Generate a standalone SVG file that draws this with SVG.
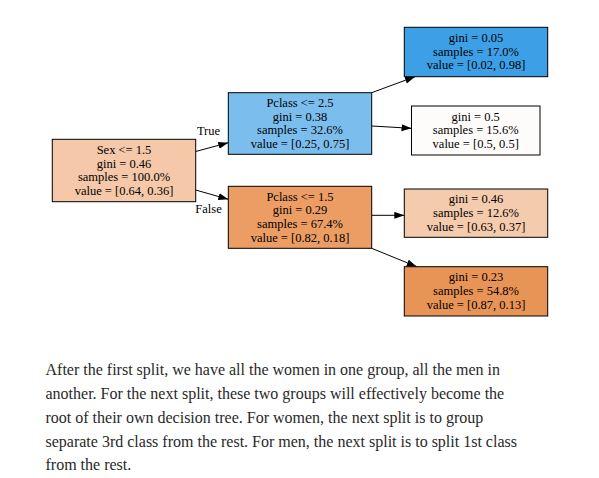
<svg xmlns="http://www.w3.org/2000/svg" width="599" height="478" viewBox="0 0 599 478">
<defs>
<style>
.box{stroke:#000;stroke-width:1}
.t{font-family:"Liberation Serif","Times New Roman",serif;font-size:12.5px;fill:#000;text-anchor:middle}
.lbl{font-family:"Liberation Serif","Times New Roman",serif;font-size:12.5px;fill:#000;text-anchor:middle}
.edge{stroke:#000;stroke-width:1;fill:none;marker-end:url(#ah)}
.p{font-family:"Liberation Serif","Times New Roman",serif;font-size:16px;fill:#292929}
</style>
<marker id="ah" markerUnits="userSpaceOnUse" markerWidth="10" markerHeight="8" refX="10" refY="3.5" orient="auto">
<path d="M0,0 L10,3.5 L0,7 z" fill="#000"/>
</marker>
</defs>
<rect width="599" height="478" fill="#fff"/>
<g id="connectors">
<line class="edge" x1="195.7" y1="151.5" x2="228.3" y2="142.7"/>
<line class="edge" x1="195.7" y1="190" x2="228.3" y2="199.3"/>
<line class="edge" x1="371.7" y1="92.7" x2="415" y2="76.7"/>
<line class="edge" x1="371.7" y1="126" x2="411.5" y2="128.3"/>
<line class="edge" x1="371.7" y1="215.3" x2="404.3" y2="215.3"/>
<line class="edge" x1="371.7" y1="248.3" x2="416.7" y2="266.7"/>
<text class="lbl" x="208.5" y="135">True</text>
<text class="lbl" x="208.5" y="212.5">False</text>
</g>
<g id="root">
<rect class="box" x="52.3" y="139.3" width="143.4" height="62.4" fill="#f4c8a8"/>
<text class="t" x="124" y="154">Sex &lt;= 1.5</text>
<text class="t" x="124" y="167.7">gini = 0.46</text>
<text class="t" x="124" y="181.3">samples = 100.0%</text>
<text class="t" x="124" y="195">value = [0.64, 0.36]</text>
</g>
<g id="pclass25">
<rect class="box" x="228.3" y="92.7" width="143.4" height="61.6" fill="#7bbeee"/>
<text class="t" x="300" y="107">Pclass &lt;= 2.5</text>
<text class="t" x="300" y="120.7">gini = 0.38</text>
<text class="t" x="300" y="134.3">samples = 32.6%</text>
<text class="t" x="300" y="148">value = [0.25, 0.75]</text>
</g>
<g id="pclass15">
<rect class="box" x="228.3" y="186.3" width="143.4" height="62" fill="#eb9d64"/>
<text class="t" x="300" y="200.7">Pclass &lt;= 1.5</text>
<text class="t" x="300" y="214.4">gini = 0.29</text>
<text class="t" x="300" y="228">samples = 67.4%</text>
<text class="t" x="300" y="241.7">value = [0.82, 0.18]</text>
</g>
<g id="leaf1">
<rect class="box" x="404.3" y="27.3" width="143.4" height="49.4" fill="#3d9fe6"/>
<text class="t" x="476" y="42">gini = 0.05</text>
<text class="t" x="476" y="55.7">samples = 17.0%</text>
<text class="t" x="476" y="69.3">value = [0.02, 0.98]</text>
</g>
<g id="leaf2">
<rect class="box" x="411.5" y="106" width="128.5" height="49" fill="#fefcfa"/>
<text class="t" x="475.7" y="120.5">gini = 0.5</text>
<text class="t" x="475.7" y="134.2">samples = 15.6%</text>
<text class="t" x="475.7" y="147.8">value = [0.5, 0.5]</text>
</g>
<g id="leaf3">
<rect class="box" x="404.3" y="189" width="143.4" height="48.3" fill="#f4cbad"/>
<text class="t" x="476" y="203.2">gini = 0.46</text>
<text class="t" x="476" y="216.8">samples = 12.6%</text>
<text class="t" x="476" y="230.5">value = [0.63, 0.37]</text>
</g>
<g id="leaf4">
<rect class="box" x="404.3" y="266.7" width="143.4" height="49.3" fill="#e99457"/>
<text class="t" x="476" y="281.3">gini = 0.23</text>
<text class="t" x="476" y="295">samples = 54.8%</text>
<text class="t" x="476" y="308.6">value = [0.87, 0.13]</text>
</g>
<g id="paragraph">
<text class="p" x="45.5" y="375">After the first split, we have all the women in one group, all the men in</text>
<text class="p" x="45.5" y="399">another. For the next split, these two groups will effectively become the</text>
<text class="p" x="45.5" y="422.7">root of their own decision tree. For women, the next split is to group</text>
<text class="p" x="45.5" y="446.7">separate 3rd class from the rest. For men, the next split is to split 1st class</text>
<text class="p" x="45.5" y="470">from the rest.</text>
</g>
</svg>
